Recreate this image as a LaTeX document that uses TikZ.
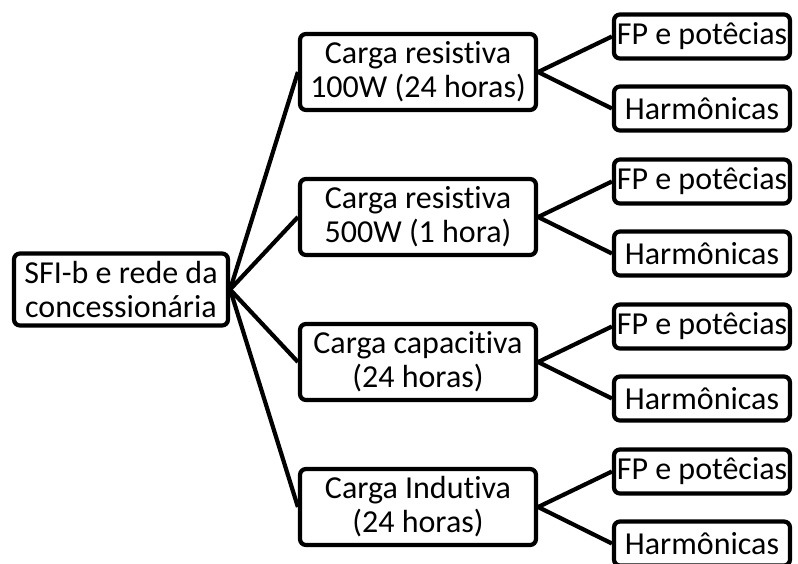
\documentclass[tikz,border=0pt]{standalone}
\usepackage{fontspec}
\setmainfont[Ligatures=NoCommon]{Carlito}
\usetikzlibrary{positioning}
\begin{document}
\begin{tikzpicture}[x=1pt,y=-1pt,line width=4.2pt,
    box/.style={draw,rounded corners=6pt,inner sep=0pt,align=center,font=\fontsize{32}{34}\selectfont},
    midbox/.style={box,minimum width=236pt,minimum height=76pt},
    leafbox/.style={box,minimum width=176pt,minimum height=44pt}]
    \useasboundingbox (0,0) rectangle (798,563);
    \clip (0,0) rectangle (798,563);
    % root
    \node[box,minimum width=214pt,minimum height=72pt] (root) at (121,289.5) {SFI-b e rede da\\concessionária};
    % four loads, each with two measurements (groups 145 apart)
    \foreach \i/\t in {0/{Carga resistiva\\100W (24 horas)},1/{Carga resistiva\\500W (1 hora)},2/{Carga capacitiva\\(24 horas)},3/{Carga Indutiva\\(24 horas)}} {
      \node[midbox] (c\i) at (418,72+145*\i) {\t};
      \node[leafbox] (f\i) at (702,36.5+145*\i) {FP e potêcias};
      \node[leafbox] (h\i) at (702,108.5+145*\i) {Harmônicas};
      \draw (root.east) -- (c\i.west);
      \draw (c\i.east) -- (f\i.west);
      \draw (c\i.east) -- (h\i.west);
    }
\end{tikzpicture}
\end{document}
